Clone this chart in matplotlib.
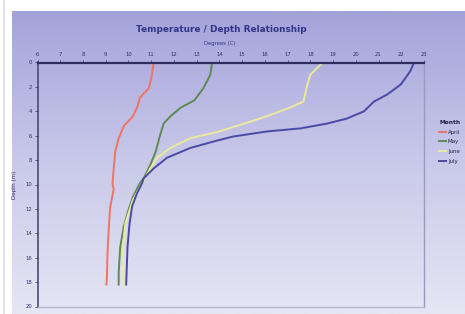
import numpy as np
import matplotlib
matplotlib.use("Agg")
import matplotlib.pyplot as plt
from matplotlib.colors import LinearSegmentedColormap

# ---- data (temperature in C, depth in m) ----
april_depth = [0, 1.0, 2.1, 2.9, 3.6, 4.4, 5.2, 6.2, 7.3, 8.7, 9.9, 10.4, 11.8, 13.7, 15.6, 17.8, 18.2]
april_temp = [11.1, 11.04, 10.9, 10.5, 10.4, 10.2, 9.8, 9.57, 9.42, 9.35, 9.3, 9.35, 9.2, 9.13, 9.08, 9.05, 9.03]

may_depth = [0, 1.0, 2.1, 3.1, 3.7, 4.4, 5.0, 5.9, 7.3, 8.4, 9.5, 9.9, 11.0, 12.1, 13.4, 15.1, 17.2, 18.2]
may_temp = [13.68, 13.6, 13.3, 12.9, 12.3, 11.85, 11.55, 11.4, 11.2, 10.96, 10.67, 10.5, 10.2, 10.0, 9.8, 9.64, 9.57, 9.57]

june_depth = [0, 1.0, 1.8, 3.2, 3.7, 4.4, 5.1, 5.7, 6.2, 7.0, 7.8, 8.7, 9.9, 11.25, 13.2, 15.4, 18.2]
june_temp = [18.55, 18.0, 17.87, 17.7, 17.1, 16.1, 14.93, 13.9, 12.73, 11.85, 11.26, 10.96, 10.6, 10.2, 9.86, 9.75, 9.8]

july_depth = [0, 0.7, 1.8, 2.6, 3.2, 4.0, 4.6, 5.0, 5.4, 5.65, 6.07, 6.4, 7.0, 7.8, 8.7, 9.5, 9.9, 10.7, 11.8, 13.2, 15.1, 18.2]
july_temp = [22.56, 22.4, 21.98, 21.4, 20.8, 20.36, 19.6, 18.75, 17.57, 16.1, 14.6, 13.9, 12.73, 11.7, 11.1, 10.67, 10.6, 10.38, 10.16, 10.05, 9.96, 9.9]

x_ticks = list(range(6, 24))
y_ticks = list(range(0, 21, 2))

W, H = 465, 314
fig = plt.figure(figsize=(W / 100, H / 100), dpi=100)
fig.patch.set_facecolor("white")

# gradient background panel
bg = fig.add_axes([12 / W, 0, 1 - 12 / W, 1 - 11 / H], zorder=-5)
cmap = LinearSegmentedColormap.from_list("bg", ["#a3a3db", "#c9c9ea", "#e6e6f4"])
grad = np.linspace(0, 1, 256).reshape(-1, 1)
bg.imshow(grad, aspect="auto", cmap=cmap, extent=[0, 1, 0, 1], origin="upper")
bg.set_axis_off()

# faint left strip line
fig.add_artist(plt.Line2D([3.5 / W, 3.5 / W], [0, 1], color="#dcdce4", lw=1.2))

ax = fig.add_axes([37.5 / W, 1 - 306.5 / H, (424 - 37.5) / W, (306.5 - 62.5) / H])
ax.set_facecolor("none")

series = [
    ("April", april_temp, april_depth, "#ef7464"),
    ("May", may_temp, may_depth, "#5c8a52"),
    ("June", june_temp, june_depth, "#ecea98"),
    ("July", july_temp, july_depth, "#4a4aa6"),
]
for name, t, d, c in series:
    ax.plot(t, d, color=c, lw=1.4, label=name)

ax.set_xlim(6, 23)
ax.set_ylim(20, 0)
ax.xaxis.tick_top()
ax.set_xticks(x_ticks)
ax.set_yticks(y_ticks)
ax.tick_params(axis="both", labelsize=3.8, colors="#404070", length=2, width=0.6, pad=2)
ax.tick_params(axis="x", labelcolor="#303060")
ax.tick_params(axis="y", labelcolor="#303060")

ax.spines["top"].set_color("#2e2e5e")
ax.spines["top"].set_linewidth(1.6)
ax.spines["left"].set_color("#4a4a7a")
ax.spines["left"].set_linewidth(1.2)
ax.spines["right"].set_color("#9a9ac0")
ax.spines["right"].set_linewidth(1.0)
ax.spines["bottom"].set_color("#b8b8cc")
ax.spines["bottom"].set_linewidth(1.0)

ax.set_ylabel("Depth (m)", fontsize=4, color="#303060", labelpad=6)

fig.text(221 / W, 1 - 30 / H, "Temperature / Depth Relationship", ha="center", va="center",
         fontsize=6.4, fontweight="bold", color="#333388")
fig.text(220 / W, 1 - 43.5 / H, "Degrees (C)", ha="center", va="center",
         fontsize=3.8, color="#333388")

handles, labels = ax.get_legend_handles_labels()
leg = fig.legend(handles, labels, loc="upper left", bbox_to_anchor=(437 / W, 1 - 118 / H),
                 frameon=False, fontsize=3.9, title="Month", handlelength=1.3,
                 handletextpad=0.3, labelspacing=0.85, borderaxespad=0)
leg.get_title().set_fontsize(4.2)
leg.get_title().set_fontweight("bold")
leg.get_title().set_color("#202040")
leg._legend_box.align = "left"
for txt in leg.get_texts():
    txt.set_color("#202040")

fig.savefig("out.png", dpi=100)
